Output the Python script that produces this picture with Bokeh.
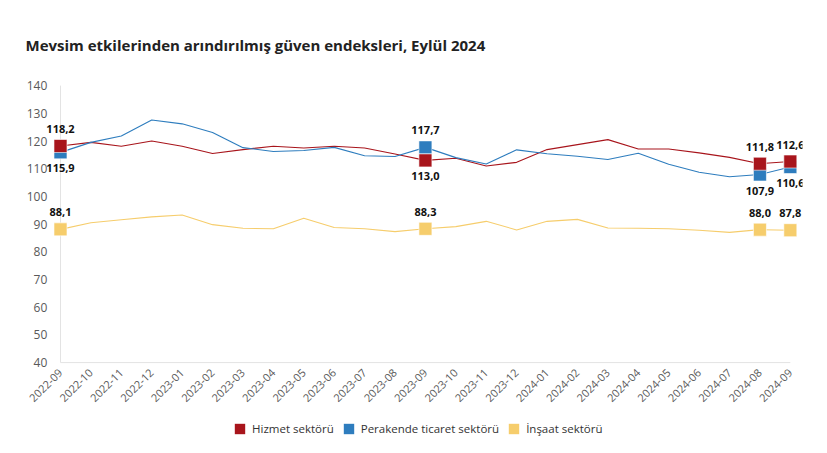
import math
from bokeh.plotting import figure
from bokeh.models import (ColumnDataSource, Range1d, FixedTicker, Legend, LegendItem)
from bokeh.core.properties import value
from bokeh.embed import file_html
from bokeh.resources import INLINE

months = ["2022-09", "2022-10", "2022-11", "2022-12", "2023-01", "2023-02", "2023-03",
          "2023-04", "2023-05", "2023-06", "2023-07", "2023-08", "2023-09", "2023-10",
          "2023-11", "2023-12", "2024-01", "2024-02", "2024-03", "2024-04", "2024-05",
          "2024-06", "2024-07", "2024-08", "2024-09"]
hizmet = [118.2, 119.5, 118.1, 120.0, 118.1, 115.5, 116.9, 118.1, 117.5, 118.1, 117.5,
          115.3, 113.0, 113.8, 111.0, 112.3, 116.9, 118.7, 120.5, 117.1, 117.1, 115.7,
          114.1, 111.8, 112.6]
perakende = [115.9, 119.5, 121.8, 127.6, 126.2, 123.1, 117.6, 116.2, 116.6, 117.7, 114.7,
             114.4, 117.7, 114.0, 111.7, 116.8, 115.4, 114.5, 113.3, 115.6, 111.6, 108.7,
             107.1, 107.9, 110.6]
insaat = [88.1, 90.5, 91.6, 92.6, 93.3, 89.8, 88.5, 88.3, 92.1, 88.8, 88.3, 87.3, 88.3,
          89.1, 91.0, 87.9, 91.0, 91.7, 88.6, 88.5, 88.3, 87.8, 87.0, 88.0, 87.8]
labeled_months = ["2022-09", "2023-09", "2024-08", "2024-09"]
y_ticks = [40, 50, 60, 70, 80, 90, 100, 110, 120, 130, 140]
series_names = ["Hizmet sektörü", "Perakende ticaret sektörü", "İnşaat sektörü"]
colors = ["#A8151C", "#2E7DBE", "#F6CD6C"]

FONT = "Open Sans"
xs = list(range(len(months)))

# layout: the frame reaches down to the bottom of the page, further left and a
# little higher, so that axis labels and the legend are drawn inside it
EXTRA_TOP = 12
FRAME_H = 368 + EXTRA_TOP
PX_PER_UNIT = 2.77
PX_PER_MONTH = 30.42
FRAME_LEFT = 26
FIRST_X_PX = 60
y_top = y_ticks[-1] + 0.4 + EXTRA_TOP / PX_PER_UNIT
y_bottom = y_top - FRAME_H / PX_PER_UNIT
x_start = -(FIRST_X_PX - FRAME_LEFT) / PX_PER_MONTH
x_end = len(months) - 1 + 0.4
frame_w = int(round((x_end - x_start) * PX_PER_MONTH))

p = figure(frame_width=frame_w, frame_height=FRAME_H, output_backend="svg",
           toolbar_location=None,
           x_range=Range1d(x_start, x_end),
           y_range=Range1d(y_bottom, y_top),
           min_border_left=FRAME_LEFT, min_border_right=17,
           min_border_top=84 - EXTRA_TOP, min_border_bottom=0)
p.outline_line_color = None
p.grid.visible = False
p.background_fill_color = "white"

p.title.text = "Mevsim etkilerinden arındırılmış güven endeksleri, Eylül 2024"
p.title.text_font = FONT
p.title.text_font_size = "15px"
p.title.text_font_style = "bold"
p.title.text_color = "#222222"
p.title.offset = -1
p.title.standoff = 47 - EXTRA_TOP

# axes
p.yaxis.ticker = FixedTicker(ticks=y_ticks)
p.yaxis.fixed_location = -0.4
p.yaxis.axis_line_color = None
p.yaxis.major_tick_line_color = None
p.yaxis.minor_tick_line_color = None
p.yaxis.major_tick_out = 0
p.yaxis.major_tick_in = 0
p.yaxis.major_label_text_font = FONT
p.yaxis.major_label_text_font_size = "12px"
p.yaxis.major_label_text_color = "#595959"
p.yaxis.major_label_standoff = 1

p.xaxis.ticker = FixedTicker(ticks=xs)
p.xaxis.fixed_location = y_ticks[0] - 0.4
p.xaxis.major_label_overrides = {i: m for i, m in enumerate(months)}
p.xaxis.major_label_orientation = math.pi / 4
p.xaxis.axis_line_color = None
p.xaxis.major_tick_line_color = None
p.xaxis.minor_tick_line_color = None
p.xaxis.major_tick_out = 0
p.xaxis.major_tick_in = 0
p.xaxis.major_label_text_font = FONT
p.xaxis.major_label_text_font_size = "11px"
p.xaxis.major_label_text_color = "#595959"
p.xaxis.major_label_standoff = 7

# frame lines
p.segment(x0=[xs[0]], y0=[y_ticks[0]], x1=[xs[-1]], y1=[y_ticks[0]],
          line_color="#E3E3E3", line_width=1)
p.segment(x0=[xs[0]], y0=[y_ticks[0]], x1=[xs[0]], y1=[y_ticks[-1]],
          line_color="#E3E3E3", line_width=1)

series = [hizmet, perakende, insaat]
for vals, c in zip(series, colors):
    p.line(xs, vals, line_color=c, line_width=1.1)

idx = [months.index(m) for m in labeled_months]
# markers: yellow, blue, red (red on top)
for k in [2, 1, 0]:
    vals = series[k]
    p.scatter(idx, [vals[i] for i in idx], marker="square", size=13,
              fill_color=colors[k], line_color="white", line_alpha=0.6, line_width=1)

# data labels
lx, ly, lt, loff = [], [], [], []
for i in idx:
    for k, vals in enumerate(series):
        v = vals[i]
        if k == 2:
            above = True
        else:
            other = series[1 - k][i]
            above = v >= other
        lx.append(i)
        ly.append(v)
        lt.append(f"{v:.1f}".replace(".", ","))
        loff.append(-17 if above else 16)
src = ColumnDataSource(dict(x=lx, y=ly, t=lt, off=loff))
p.text(x="x", y="y", text="t", y_offset="off", source=src, text_align="center",
       text_baseline="middle", text_font=value(FONT), text_font_size="11px",
       text_font_style="bold", text_color="#111111")

# legend: zero-size boxes at each series' first point give square legend swatches
items = []
for name, c, vals in zip(series_names, colors, series):
    r = p.quad(left=[xs[0]], right=[xs[0]], top=[vals[0]], bottom=[vals[0]],
               fill_color=c, line_color=None)
    items.append(LegendItem(label=name, renderers=[r]))
legend = Legend(items=items, orientation="horizontal",
                location=(233 - FRAME_LEFT, 16),
                glyph_width=13, glyph_height=13, label_text_font=FONT,
                label_text_font_size="11.5px", label_text_color="#333333",
                border_line_color=None, background_fill_alpha=0, spacing=8,
                label_standoff=6, padding=0, margin=0)
p.add_layout(legend, "center")

open("out.html", "w").write(file_html(p, INLINE))
